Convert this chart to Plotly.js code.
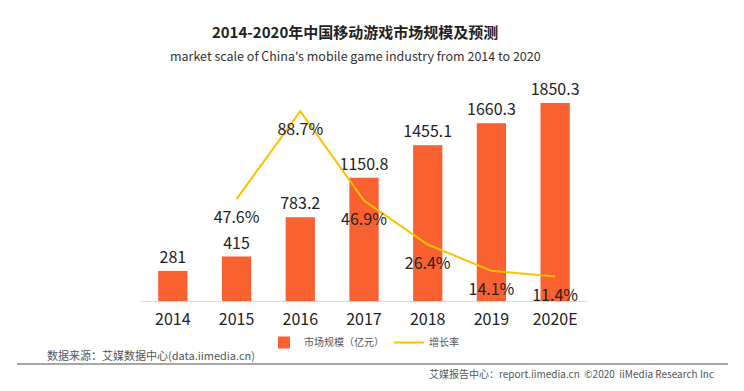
<!DOCTYPE html>
<html>
<head>
<meta charset="utf-8">
<script src="https://cdn.plot.ly/plotly-3.0.1.min.js"></script>
<style>
html,body{margin:0;padding:0;background:#fff;}
#chart{width:744px;height:391px;}
</style>
</head>
<body>
<div id="chart"></div>
<script>
const categories = ["2014", "2015", "2016", "2017", "2018", "2019", "2020E"];
const marketSize = [281, 415, 783.2, 1150.8, 1455.1, 1660.3, 1850.3];
const growthYears = ["2015", "2016", "2017", "2018", "2019", "2020E"];
const growthRate = [47.6, 88.7, 46.9, 26.4, 14.1, 11.4];
const marketLabels = marketSize.map(v => String(v));
const growthLabels = growthRate.map(v => v.toFixed(1) + "%");

const FONT = "'Noto Sans CJK SC', 'Noto Sans', sans-serif";

const traces = [
  {
    type: "bar",
    name: "市场规模（亿元）",
    x: categories,
    y: marketSize,
    text: marketLabels,
    textposition: "outside",
    constraintext: "none",
    textfont: {size: 16, color: "#222", family: FONT},
    cliponaxis: false,
    marker: {color: "#FA6131"},
    hoverinfo: "x+y"
  },
  {
    type: "scatter",
    mode: "lines",
    name: "增长率",
    x: growthYears,
    y: growthRate,
    yaxis: "y2",
    line: {color: "#FFC000", width: 2}
  },
  {
    type: "scatter",
    mode: "markers+text",
    name: "增长率标签",
    showlegend: false,
    x: growthYears,
    y: growthRate,
    yaxis: "y2",
    text: growthLabels,
    textposition: "bottom center",
    textfont: {size: 16, color: "#222", family: FONT},
    cliponaxis: false,
    marker: {size: 18, opacity: 0, color: "#FFC000"}
  }
];

const layout = {
  width: 744,
  height: 391,
  paper_bgcolor: "#fff",
  plot_bgcolor: "#fff",
  font: {family: FONT, color: "#333"},
  showlegend: true,
  margin: {l: 141, r: 157, t: 87, b: 90},
  bargap: 0.54,
  title: {
    text: "<b>2014-2020年中国移动游戏市场规模及预测</b>",
    font: {size: 15, color: "#222", family: FONT},
    x: 0.48, xanchor: "center", xref: "paper",
    y: 1 - 33/391, yanchor: "middle", yref: "container"
  },
  xaxis: {
    type: "category",
    range: [-0.5, 6.5],
    showgrid: false,
    showline: true,
    linecolor: "#d9d9d9",
    linewidth: 1,
    ticks: "",
    ticklabelstandoff: 4,
    tickfont: {size: 16, color: "#222", family: FONT},
    fixedrange: true
  },
  yaxis: {
    range: [0, 2000],
    visible: false,
    showgrid: false,
    zeroline: false,
    fixedrange: true
  },
  yaxis2: {
    range: [0, 100],
    overlaying: "y",
    side: "right",
    visible: false,
    showgrid: false,
    zeroline: false,
    fixedrange: true
  },
  legend: {
    orientation: "h",
    x: 0.5, xanchor: "center",
    y: -(328 - 301)/214, yanchor: "top",
    font: {size: 10, color: "#555", family: FONT},
    bgcolor: "rgba(0,0,0,0)",
    itemwidth: 30,
    tracegroupgap: 0
  },
  annotations: [
    {
      text: "market scale of China's mobile game industry from 2014 to 2020",
      xref: "paper", yref: "paper",
      x: 0.48, xanchor: "center",
      y: 1 + (87 - 55)/214, yanchor: "middle",
      showarrow: false,
      font: {size: 12.5, color: "#333", family: FONT}
    },
    {
      text: "数据来源：艾媒数据中心(data.iimedia.cn)",
      xref: "paper", yref: "paper",
      x: (45 - 141)/446, xanchor: "left",
      y: -(355 - 301)/214, yanchor: "middle",
      showarrow: false,
      font: {size: 11, color: "#555", family: FONT}
    },
    {
      text: "艾媒报告中心：report.iimedia.cn  ©2020  iiMedia Research Inc",
      xref: "paper", yref: "paper",
      x: (716 - 141)/446, xanchor: "right",
      y: -(373 - 301)/214, yanchor: "middle",
      showarrow: false,
      font: {size: 10, color: "#555", family: FONT}
    }
  ],
  shapes: [
    {
      type: "line",
      xref: "paper", yref: "paper",
      x0: (17 - 141)/446, x1: (728 - 141)/446,
      y0: -(364 - 301)/214, y1: -(364 - 301)/214,
      line: {color: "#888", width: 1.5}
    }
  ]
};

Plotly.newPlot("chart", traces, layout, {displayModeBar: false, staticPlot: true});
</script>
</body>
</html>
